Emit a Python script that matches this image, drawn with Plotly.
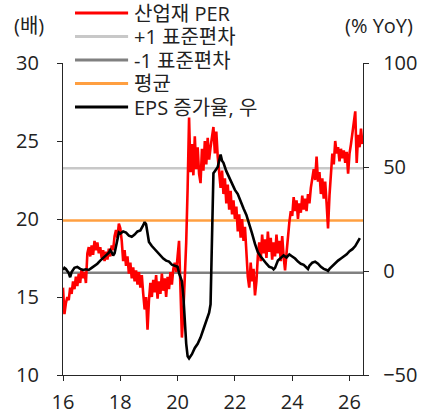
import plotly.graph_objects as go

# 산업재 12개월 선행 PER (배): 2016.00부터 0.05년 간격
per_start = 16.0
per_step = 0.05
per_values = [
    15.6, 13.9, 14.6, 15.0, 14.8, 15.6, 15.2, 16.0, 15.5, 16.3,
    15.7, 16.5, 15.9, 16.8, 16.2, 16.6, 15.9, 17.8, 18.2, 17.6,
    18.3, 17.7, 18.6, 18.0, 18.5, 17.8, 18.2, 17.5, 18.0, 17.3,
    17.9, 17.4, 18.1, 17.6, 18.3, 18.0, 18.9, 19.3, 18.8, 19.7,
    19.4, 18.6, 17.3, 18.0, 17.0, 17.6, 16.5, 17.2, 16.2, 16.9,
    16.0, 16.7, 15.8, 16.6, 15.6, 16.4, 15.2, 14.2, 15.0, 12.9,
    14.8, 15.9, 15.0, 16.1, 15.3, 16.4, 14.9, 16.0, 15.2, 16.5,
    15.4, 16.2, 15.0, 16.3, 15.5, 16.6, 15.8, 16.8, 17.2, 16.6,
    17.6, 18.6, 15.5, 12.4, 14.0, 16.0, 18.5, 22.0, 26.5, 23.0,
    24.8, 22.8, 25.3, 23.2, 24.6, 22.9, 22.3, 24.5, 23.1, 25.0,
    23.5, 25.2, 23.8, 24.6, 25.4, 25.9, 24.2, 25.6, 24.0, 23.0,
    22.0, 23.1, 21.6, 22.6, 21.0, 22.2, 20.6, 21.8, 20.3, 21.2,
    20.0, 20.8, 19.2, 20.3, 18.8, 20.0, 18.6, 19.5, 17.5, 16.3,
    15.6, 17.2, 16.0, 16.8, 15.1, 16.0, 17.6, 18.5, 17.3, 19.0,
    17.8, 18.7, 17.5, 19.2, 17.9, 18.8, 17.4, 18.5, 17.6, 19.0,
    17.8, 18.6, 17.3, 18.9, 17.6, 16.7, 17.8, 18.9, 19.8, 20.5,
    20.2, 21.4, 20.5, 21.2, 20.0, 21.0, 20.4, 21.5, 20.6, 21.3,
    20.5, 21.6, 21.0, 22.0, 22.6, 23.2, 22.5, 24.0, 22.4, 23.0,
    21.6, 22.6, 21.3, 22.4, 21.0, 19.4, 21.5, 23.0, 24.2, 23.5,
    25.0, 24.2, 24.6, 23.7, 24.5, 23.9, 24.4, 23.6, 24.3, 22.9,
    24.2, 24.8, 25.6, 26.3, 26.9, 23.6, 25.4, 24.6, 25.8, 24.8,
]
per_years = [round(per_start + i * per_step, 2) for i in range(len(per_values))]

# EPS 증가율 (% YoY, 우축)
eps_years = [
    16.00, 16.05, 16.10, 16.20, 16.25, 16.30, 16.40, 16.50, 16.60, 16.70,
    16.80, 16.90, 17.00, 17.10, 17.20, 17.30, 17.40, 17.50, 17.60, 17.65,
    17.70, 17.75, 17.80, 17.85, 17.90, 17.95, 18.00, 18.10, 18.20, 18.30,
    18.40, 18.50, 18.60, 18.70, 18.80, 18.85, 18.90, 18.95, 19.00, 19.10,
    19.20, 19.30, 19.40, 19.50, 19.60, 19.70, 19.80, 19.90, 20.00, 20.05,
    20.10, 20.15, 20.20, 20.25, 20.30, 20.35, 20.40, 20.50, 20.60, 20.70,
    20.80, 20.90, 21.00, 21.10, 21.15, 21.20, 21.25, 21.30, 21.40, 21.45,
    21.50, 21.55, 21.60, 21.70, 21.80, 21.90, 22.00, 22.10, 22.20, 22.30,
    22.40, 22.50, 22.60, 22.70, 22.80, 22.90, 23.00, 23.10, 23.20, 23.30,
    23.35, 23.40, 23.50, 23.60, 23.70, 23.80, 23.90, 24.00, 24.10, 24.20,
    24.30, 24.40, 24.50, 24.55, 24.60, 24.70, 24.80, 24.90, 25.00, 25.10,
    25.20, 25.25, 25.30, 25.40, 25.50, 25.60, 25.70, 25.80, 25.90, 26.00,
    26.10, 26.20, 26.30, 26.36,
]
eps_values = [
    0.5, 1.5, 1.0, -1.0, -3.0, -0.5, 1.5, 2.0, 1.0, 0.5,
    0.8, 0.5, 1.5, 2.5, 3.5, 5.0, 6.5, 7.5, 8.8, 10.0,
    9.0, 7.5, 8.5, 12.0, 16.0, 18.5, 18.0, 19.0, 18.5, 17.0,
    16.5, 17.5, 19.0, 19.5, 22.0, 23.5, 22.5, 19.0, 14.0, 12.0,
    10.5, 8.5, 7.0, 6.0, 5.0, 4.5, 3.0, 2.5, 2.0, -1.0,
    -3.0, -5.0, -12.0, -25.0, -35.0, -41.0, -42.0, -40.0, -37.0, -35.0,
    -32.0, -28.0, -24.0, -20.0, -16.0, 10.0, 47.0, 48.0, 50.0, 53.0,
    56.0, 53.0, 52.0, 48.0, 45.0, 42.0, 39.0, 37.0, 33.0, 30.0,
    27.0, 23.0, 18.0, 13.0, 9.0, 7.0, 5.0, 3.5, 2.0, 1.5,
    0.8, 1.5, 5.0, 6.5, 7.5, 6.5, 8.0, 7.0, 6.0, 4.5,
    3.5, 3.0, 1.5, 1.0, 2.5, 4.0, 4.5, 3.5, 2.0, 1.0,
    0.5, 0.0, 1.0, 2.5, 3.5, 5.0, 6.0, 7.0, 8.0, 9.5,
    10.5, 12.0, 14.5, 15.8,
]

# PER 기준선: 이름, 값(배), 색
band_names = ["+1 표준편차", "-1 표준편차", "평균"]
band_values = [23.25, 16.55, 19.9]
band_colors = ["#C8C8C8", "#808080", "#FF9F40"]

# 축 눈금
x_ticks = [16, 18, 20, 22, 24, 26]
x_ticktext = ["16", "18", "20", "22", "24", "26"]
y_ticks = [10, 15, 20, 25, 30]
y2_ticks = [-50, 0, 50, 100]
x_range = [16, 26.47]

FONT = "Open Sans, Noto Sans CJK KR, sans-serif"
AXIS_COLOR = "#262626"
TEXT_COLOR = "#222222"

fig = go.Figure()

for name, val, col in zip(band_names, band_values, band_colors):
    fig.add_trace(go.Scatter(
        x=x_range, y=[val, val], mode="lines", name=name,
        line=dict(color=col, width=2.5), showlegend=False, hoverinfo="skip",
    ))

fig.add_trace(go.Scatter(
    x=per_years, y=per_values, mode="lines", name="산업재 PER",
    line=dict(color="#FF0000", width=2.6), showlegend=False,
))

fig.add_trace(go.Scatter(
    x=eps_years, y=eps_values, mode="lines", name="EPS 증가율, 우",
    line=dict(color="#000000", width=2.6), yaxis="y2", showlegend=False,
))

axis_common = dict(
    showgrid=False, zeroline=False, showline=True, linecolor=AXIS_COLOR,
    linewidth=1.3, ticks="outside", ticklen=5, tickcolor=AXIS_COLOR,
    tickwidth=1.3, automargin=False,
    tickfont=dict(family=FONT, size=20, color=TEXT_COLOR),
)

fig.update_layout(
    width=426, height=415,
    margin=dict(l=63, r=63, t=63, b=40, autoexpand=False),
    paper_bgcolor="white", plot_bgcolor="white",
    font=dict(family=FONT, size=20, color=TEXT_COLOR),
    showlegend=False,
    xaxis=dict(range=x_range, tickvals=x_ticks, ticktext=x_ticktext,
               ticklabelstandoff=4, **axis_common),
    yaxis=dict(range=[10, 30], tickvals=y_ticks, ticklabelstandoff=14,
               **axis_common),
    yaxis2=dict(range=[-50, 100], tickvals=y2_ticks, overlaying="y",
                side="right", ticklabelstandoff=10, **axis_common),
)

# 축 단위
fig.add_annotation(text="(배)", x=-0.113, y=1.12, xref="paper", yref="paper",
                   xanchor="center", yanchor="middle", showarrow=False,
                   font=dict(family=FONT, size=20, color=TEXT_COLOR))
fig.add_annotation(text="(% YoY)", x=1.053, y=1.12, xref="paper", yref="paper",
                   xanchor="center", yanchor="middle", showarrow=False,
                   font=dict(family=FONT, size=20, color=TEXT_COLOR))

# 범례 (선 견본 + 텍스트)
legend_items = [
    ("산업재 PER", "#FF0000"),
    ("+1 표준편차", "#C8C8C8"),
    ("-1 표준편차", "#808080"),
    ("평균", "#FF9F40"),
    ("EPS 증가율, 우", "#000000"),
]
legend_top = 1.160
legend_gap = 0.0753
for i, (label, col) in enumerate(legend_items):
    yy = legend_top - i * legend_gap
    fig.add_shape(type="line", xref="paper", yref="paper",
                  x0=0.04, x1=0.217, y0=yy, y1=yy,
                  line=dict(color=col, width=3))
    fig.add_annotation(text=label, x=0.23, y=yy, xref="paper", yref="paper",
                       xanchor="left", yanchor="middle", showarrow=False,
                       height=23,
                       font=dict(family=FONT, size=20, color=TEXT_COLOR))

fig.write_html("out.html")
